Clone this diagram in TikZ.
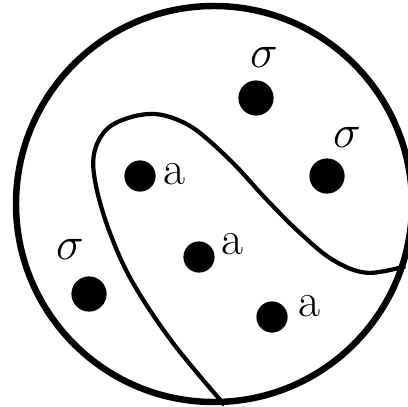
\documentclass[tikz,border=0pt]{standalone}
\usepackage{amsmath,amssymb}
\usepackage{tikz}
\usetikzlibrary{positioning, calc}

\newcommand{\sig}{\scalebox{1.6}{$\sigma$}}

\begin{document}
\begin{tikzpicture}[
    dish/.style={draw, circle, line width=4.6pt, minimum size=9.9cm, inner sep=0pt},
    border/.style={line width=3pt, line join=round},
    big dot/.style={circle, fill=black, minimum size=0.88cm, inner sep=0pt},
    small dot/.style={circle, fill=black, minimum size=0.78cm, inner sep=0pt},
    sig label/.style={inner sep=0pt, font=\huge},
    a label/.style={inner sep=0pt, font=\fontsize{34}{36}\selectfont}
]
    \useasboundingbox (0, 0) rectangle (10.2, 10.15);

    % ================= DISH =================
    \node[dish] (DISH) at (5.35, 5.05) {};

    % ================= DIVIDING LINE =================
    \draw[border] plot[smooth, tension=0.6] coordinates {
        (DISH.-87) (4.325, 1.575) (3.325, 3.075) (2.75, 4.325) (2.4, 5.5)
        (2.35, 6.3) (2.65, 6.9) (3.2, 7.2) (3.85, 7.3) (4.45, 7.15)
        (5.0, 6.825) (5.825, 6.075) (6.675, 5.15) (7.5, 4.325)
        (8.325, 3.65) (9.175, 3.33) (DISH.-18)};

    % ================= SIGMA POINTS =================
    \node[big dot] (S_TOP) at (6.4, 7.7) {};
    \node[big dot] (S_RIGHT) at (8.175, 5.75) {};
    \node[big dot] (S_LEFT) at (2.225, 2.8) {};

    \node[sig label] (L_TOP) at (6.6, 8.72) {\sig};
    \node[sig label] (L_RIGHT) at (8.675, 6.72) {\sig};
    \node[sig label] (L_LEFT) at (1.75, 3.92) {\sig};

    % ================= A POINTS =================
    \node[small dot] (A_LEFT) at (3.5, 5.75) {};
    \node[small dot] (A_MID) at (4.975, 3.725) {};
    \node[small dot] (A_LOW) at (6.8, 2.225) {};

    \node[a label] (LA_LEFT) at (4.35, 5.8) {a};
    \node[a label] (LA_MID) at (5.8, 4.05) {a};
    \node[a label] (LA_LOW) at (7.725, 2.5) {a};

\end{tikzpicture}
\end{document}
